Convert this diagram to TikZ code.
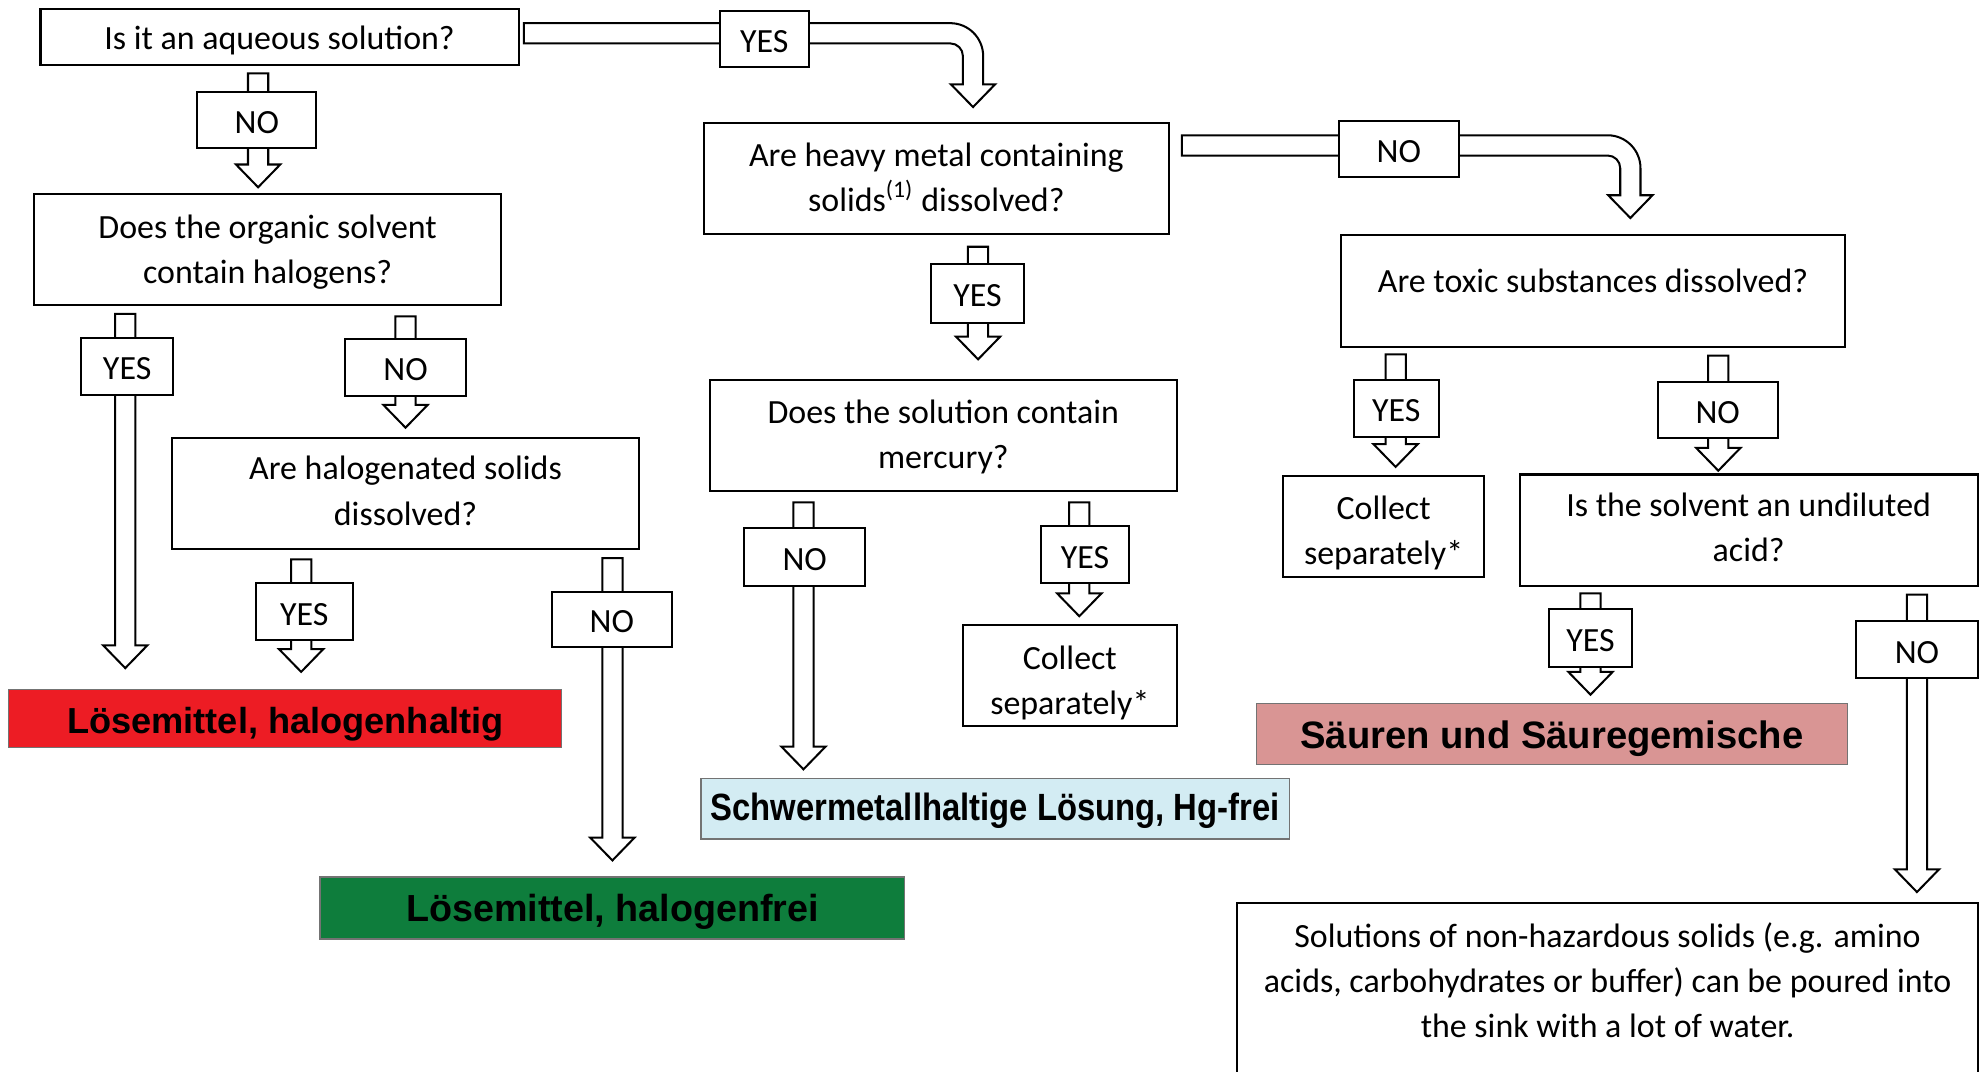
\documentclass[tikz,border=0pt]{standalone}
\usepackage{fontspec}
\usepackage{graphicx}
\setmainfont{Carlito}
\newfontfamily\arialfont{Liberation Sans}
\usetikzlibrary{calc}
\pgfdeclarelayer{back}
\pgfdeclarelayer{arrows}
\pgfsetlayers{back,arrows,main}
\definecolor{cred}{HTML}{ED1C24}
\definecolor{cgreen}{HTML}{0E7D3C}
\definecolor{cblue}{HTML}{D3ECF3}
\definecolor{cpink}{HTML}{D99594}
\newcommand\myqfont{\fontsize{13.4pt}{17.8pt}\selectfont}
\newcommand\twol[2][0pt]{\raisebox{#1}[\height][\depth]{\begin{tabular}{@{}c@{}}#2\end{tabular}}}
\tikzset{
  qbox/.style={draw=black, fill=white, line width=0.8pt, inner sep=0pt, outer sep=0pt, align=center, font=\myqfont},
  oneline/.style={execute at begin node={\rule[-4pt]{0pt}{18.5pt}}},
  lbl/.style={qbox, oneline},
  wh/.style 2 args={minimum width=#1*0.5pt, minimum height=#2*0.5pt},
  cbox/.style={draw=black!55, line width=0.5pt, inner sep=0pt, outer sep=0pt},
  blk/.style={draw=black, fill=white, line width=0.8pt, line join=miter,
    to path={let \p1=(\tikztostart), \p2=(\tikztotarget) in
      (\x1-4pt,\y1) -- (\x1+4pt,\y1) -- (\x1+4pt,\y2+9pt) -- (\x1+8.75pt,\y2+9pt)
      -- (\x1,\y2) -- (\x1-8.75pt,\y2+9pt) -- (\x1-4pt,\y2+9pt) -- cycle}},
  bentblk/.style={draw=black, fill=white, line width=0.8pt, line join=miter,
    to path={let \p1=(\tikztostart), \p2=(\tikztotarget) in
      (\x1,\y1+4pt) -- (\x2-9pt,\y1+4pt)
      .. controls (\x2-1.82pt,\y1+4pt) and (\x2+4pt,\y1-1.82pt) .. (\x2+4pt,\y1-9pt)
      -- (\x2+4pt,\y2+9pt) -- (\x2+8.75pt,\y2+9pt) -- (\x2,\y2) -- (\x2-8.75pt,\y2+9pt)
      -- (\x2-4pt,\y2+9pt) -- (\x2-4pt,\y1-9pt)
      .. controls (\x2-4pt,\y1-6.24pt) and (\x2-6.24pt,\y1-4pt) .. (\x2-9pt,\y1-4pt)
      -- (\x1,\y1-4pt) -- cycle}},
}
\begin{document}
\begin{tikzpicture}[x=0.5pt,y=-0.5pt]
\useasboundingbox (0,0) rectangle (1568,847);
\begin{pgfonlayer}{back}
\fill[white] (0,0) rectangle (1568,847);
\end{pgfonlayer}

% question boxes
\node[qbox, oneline, wh={378}{44}] (A) at (221,29) {Is it an aqueous solution?};
\node[qbox, wh={368}{88}] (B) at (740,141) {\twol[-0.5pt]{Are heavy metal containing\\solids\textsuperscript{(1)} dissolved?}};
\node[qbox, wh={398}{88}] (C) at (1259,230) {\raisebox{4pt}[\height][\depth]{Are toxic substances dissolved?}};
\node[qbox, wh={369}{88}] (D) at (211.5,197) {\twol[-1pt]{Does the organic solvent\\contain halogens?}};
\node[qbox, wh={369}{88}] (E) at (320.5,390) {\twol[0pt]{Are halogenated solids\\dissolved?}};
\node[qbox, wh={369}{88}] (F) at (745.5,344) {\twol[-0.5pt]{Does the solution contain\\mercury?}};
\node[qbox, wh={169}{80}] (G) at (845.5,534) {\twol[-3pt]{Collect\\separately*}};
\node[qbox, wh={159}{80}] (H) at (1093.5,416) {\twol[-2.5pt]{Collect\\separately*}};
\node[qbox, wh={362}{88}] (I) at (1382,419) {\twol[0pt]{Is the solvent an undiluted\\acid?}};
\node[qbox, wh={585}{180}, anchor=north] (J) at (1270.5,714) {};
\node[font=\myqfont, align=center, inner sep=0pt] (Jt) at (1270.5,775) {\twol[-1pt]{Solutions of non-hazardous solids (e.g. amino\\acids, carbohydrates or buffer) can be poured into\\the sink with a lot of water.}};

% coloured result boxes
\node[cbox, fill=cred, wh={437}{46}, font={\arialfont\bfseries\fontsize{14.3pt}{16pt}\selectfont}] (red) at (225.5,568) {\raisebox{-2pt}[\height][\depth]{Lösemittel, halogenhaltig}};
\node[cbox, fill=cgreen, wh={462}{49}, font={\arialfont\bfseries\fontsize{14.9pt}{16pt}\selectfont}] (green) at (484,717.5) {\raisebox{-1.5pt}[\height][\depth]{Lösemittel, halogenfrei}};
\node[cbox, fill=cblue, wh={465}{48}, font={\arialfont\bfseries\fontsize{15pt}{16pt}\selectfont}] (blue) at (786.5,639) {\raisebox{-1pt}[\height][\depth]{\scalebox{0.865}[1]{Schwermetallhaltige Lösung, Hg-frei}}};
\node[cbox, fill=cpink, wh={467}{48}, font={\arialfont\bfseries\fontsize{15.1pt}{16pt}\selectfont}] (pink) at (1226.5,580) {\raisebox{-2pt}[\height][\depth]{Säuren und Säuregemische}};

% YES / NO labels
\node[lbl, wh={94}{44}] (L1) at (203,95) {NO};
\node[lbl, wh={73}{45}] (L2) at (100.5,289.5) {YES};
\node[lbl, wh={95}{45}] (L3) at (320.5,290.5) {NO};
\node[lbl, wh={77}{45}] (L4) at (240.5,483.5) {YES};
\node[lbl, wh={95}{43}] (L5) at (483.5,489.5) {NO};
\node[lbl, wh={73}{46}] (L6) at (772.5,232) {YES};
\node[lbl, wh={96}{46}] (L7) at (636,440) {NO};
\node[lbl, wh={70}{45}] (L8) at (857.5,438.5) {YES};
\node[lbl, wh={67}{45}] (L9) at (1103.5,322.5) {YES};
\node[lbl, wh={95}{44}] (L10) at (1357.5,324) {NO};
\node[lbl, wh={66}{46}] (L11) at (1257,504) {YES};
\node[lbl, wh={96}{45}] (L12) at (1515,513.5) {NO};
\node[lbl, wh={70}{44}] (L13) at (604,31) {YES};
\node[lbl, wh={95}{44}] (L14) at (1105.5,118) {NO};

% block arrows
\begin{pgfonlayer}{arrows}
\draw[bentblk] ($(A.east)+(4,-2.7)$) to ($(B.north)+(29,-12.4)$);
\draw[bentblk] ($(B.east)+(10,-26.1)$) to ($(C.north)+(29.5,-13.7)$);
\draw[blk] ($(A.south -| L1)+(1,7)$) to ($(D.north -| L1)+(1,-5)$);
\draw[blk] ($(D.south -| L2)+(-1.5,7)$) to ($(red.north -| L2)+(-1.5,-17)$);
\draw[blk] ($(D.south -| L3)+(0,9)$) to ($(E.north -| L3)+(0,-8)$);
\draw[blk] ($(E.south -| L4)+(-2.5,8)$) to ($(red.north -| L4)+(-2.5,-14)$);
\draw[blk] ($(E.south -| L5)+(0.5,7)$) to ($(green.north -| L5)+(0.5,-13)$);
\draw[blk] ($(B.south -| L6)+(0.5,10)$) to ($(F.north -| L6)+(0.5,-16)$);
\draw[blk] ($(F.south -| L7)+(-1,9)$) to ($(blue.north -| L7)+(-1,-7)$);
\draw[blk] ($(F.south -| L8)+(-4.5,9)$) to ($(G.north -| L8)+(-4.5,-7)$);
\draw[blk] ($(C.south -| L9)+(-0.5,6)$) to ($(H.north -| L9)+(-0.5,-7)$);
\draw[blk] ($(C.south -| L10)+(0.5,7)$) to ($(I.north -| L10)+(0.5,-3)$);
\draw[blk] ($(I.south -| L11)+(0,6)$) to ($(pink.north -| L11)+(0,-7)$);
\draw[blk] ($(I.south -| L12)+(0,7)$) to ($(J.north -| L12)+(0,-9)$);
\end{pgfonlayer}
\end{tikzpicture}
\end{document}
